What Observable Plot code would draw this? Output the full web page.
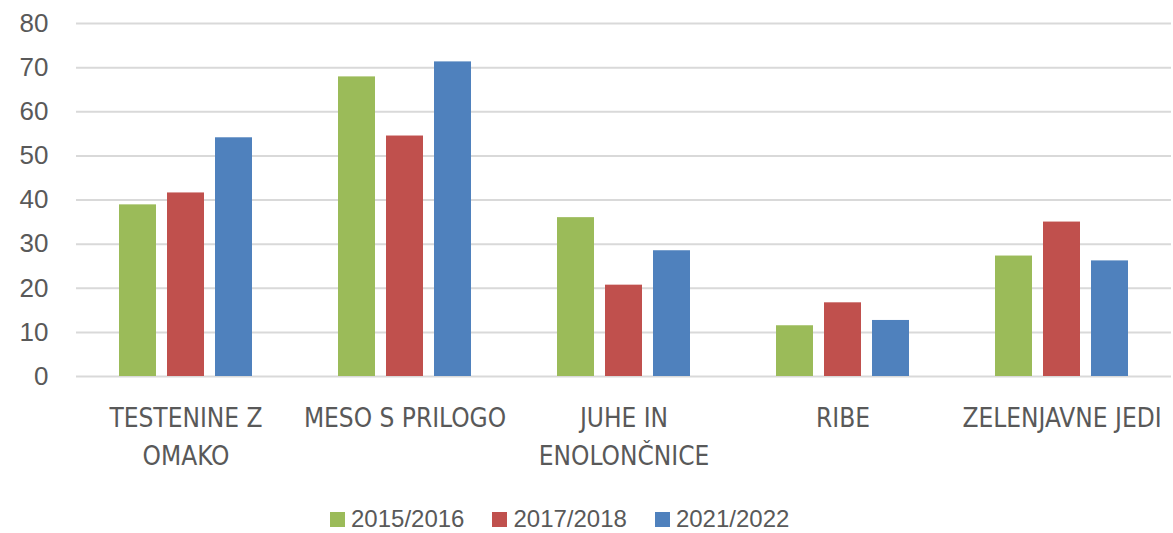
<!DOCTYPE html>
<html>
<head>
<meta charset="utf-8">
<script src="https://cdn.jsdelivr.net/npm/d3@7"></script>
<script src="https://cdn.jsdelivr.net/npm/@observablehq/plot@0.6"></script>
<style>
  html, body { margin: 0; padding: 0; background: #fff; }
  #chart { width: 1173px; height: 533px; position: relative; }
  #legend { position: absolute; left: 330px; top: 505px; display: flex; align-items: center;
            font-family: "Liberation Sans", Arial, sans-serif; font-size: 24px; color: #595959; }
  .item { display: flex; align-items: center; margin-right: 28px; }
  .sw { width: 15px; height: 15px; margin-right: 6px; }
</style>
</head>
<body>
<div id="chart"></div>
<script>
const categories = ["TESTENINE Z OMAKO", "MESO S PRILOGO", "JUHE IN ENOLONČNICE", "RIBE", "ZELENJAVNE JEDI"];
const categoryLabels = ["TESTENINE Z\nOMAKO", "MESO S PRILOGO", "JUHE IN\nENOLONČNICE", "RIBE", "ZELENJAVNE JEDI"];
const years = ["2015/2016", "2017/2018", "2021/2022"];
const values2015 = [38.9, 67.9, 36.0, 11.5, 27.3];
const values2017 = [41.6, 54.5, 20.7, 16.7, 35.0];
const values2021 = [54.1, 71.3, 28.5, 12.7, 26.2];
const yTicks = [0, 10, 20, 30, 40, 50, 60, 70, 80];

const seriesColors = ["#9BBB59", "#C0504D", "#4F81BD"];
const seriesValues = [values2015, values2017, values2021];

const data = [];
categories.forEach((c, i) => {
  years.forEach((y, j) => data.push({category: c, year: y, value: seriesValues[j][i]}));
});
const labelOf = new Map(categories.map((c, i) => [c, categoryLabels[i]]));

const H = 495;
const plot = Plot.plot({
  width: 1173,
  height: H,
  marginLeft: 75,
  marginRight: 1,
  marginTop: 23,
  marginBottom: H - 376,
  style: {fontFamily: "'Liberation Sans', Arial, sans-serif", color: "#595959", background: "#fff"},
  fx: {domain: categories, padding: 0, label: null, axis: null},
  x: {domain: years, paddingInner: 0.22, paddingOuter: 0.86, axis: null},
  y: {domain: [0, 80], label: null},
  color: {domain: years, range: seriesColors},
  marks: [
    Plot.ruleY(yTicks, {stroke: "#D9D9D9", strokeWidth: 2}),
    Plot.barY(data, {fx: "category", x: "year", y: "value", fill: "year"}),
    Plot.axisY({ticks: yTicks, tickSize: 0, tickPadding: 28, fontSize: 26, color: "#595959", label: null}),
    Plot.axisFx({anchor: "bottom", tickSize: 0, tickPadding: 24, fontSize: 26, lineHeight: 1.46,
                 fontFamily: "'Liberation Sans Narrow', 'DejaVu Sans Condensed', sans-serif",
                 color: "#595959", label: null, tickFormat: d => labelOf.get(d)})
  ]
});
document.getElementById("chart").appendChild(plot);

const legend = document.createElement("div");
legend.id = "legend";
years.forEach((y, j) => {
  const item = document.createElement("div");
  item.className = "item";
  const sw = document.createElement("span");
  sw.className = "sw";
  sw.style.background = seriesColors[j];
  const t = document.createElement("span");
  t.textContent = y;
  item.appendChild(sw); item.appendChild(t);
  legend.appendChild(item);
});
document.getElementById("chart").appendChild(legend);
</script>
</body>
</html>
